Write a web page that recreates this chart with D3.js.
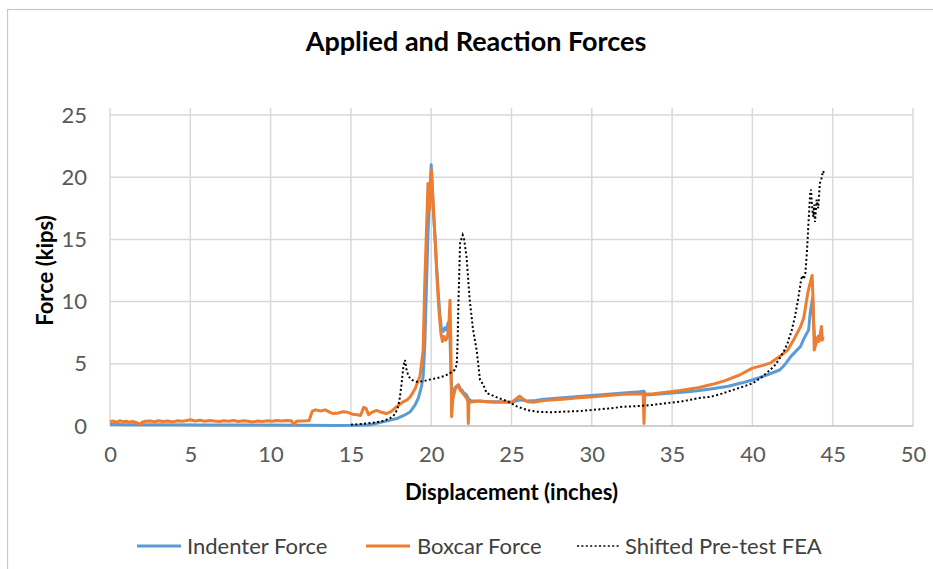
<!DOCTYPE html>
<html>
<head>
<meta charset="utf-8">
<script src="https://cdn.jsdelivr.net/npm/d3@7"></script>
<style>
  html, body { margin: 0; padding: 0; background: #fff; }
  svg { display: block; }
  text { font-family: Lato, "Open Sans", sans-serif; }
</style>
</head>
<body>
<svg id="chart" width="933" height="569"></svg>
<script>
// ---- Data ----------------------------------------------------------------
const chartTitle = "Applied and Reaction Forces";
const xAxisTitle = "Displacement (inches)";
const yAxisTitle = "Force (kips)";
const seriesNames = ["Indenter Force", "Boxcar Force", "Shifted Pre-test FEA"];

const xTicks = [0, 5, 10, 15, 20, 25, 30, 35, 40, 45, 50];
const yTicks = [0, 5, 10, 15, 20, 25];

// Indenter force (kips) vs displacement (in)
const indenterX = [0, 1, 3, 6, 9, 12, 14, 15.5, 16.2, 16.8, 17.4, 17.85, 18.3, 18.7, 19.0, 19.2, 19.4, 19.5, 19.6, 19.7, 19.8, 19.9, 20.0, 20.05, 20.15, 20.25, 20.34, 20.45, 20.55, 20.65, 20.75, 20.85, 20.96, 21.05, 21.15, 21.25, 21.3, 21.4, 21.5, 21.6, 21.7, 21.8, 21.9, 22.0, 22.2, 22.3, 22.5, 23, 23.5, 24, 25, 25.5, 26, 26.5, 27, 28, 29, 30, 31, 32, 33, 33.25, 33.35, 34, 35, 36, 36.7, 37.5, 38.5, 39.3, 40, 40.8, 41.3, 41.7, 42.0, 42.4, 42.7, 43.0, 43.2, 43.4, 43.5, 43.6, 43.7, 43.75, 43.8, 43.9, 44.0, 44.1, 44.3];
const indenterY = [0.15, 0.1, 0.1, 0.08, 0.08, 0.06, 0.05, 0.06, 0.1, 0.27, 0.45, 0.6, 0.85, 1.15, 1.7, 2.25, 3.2, 4.0, 6.5, 11, 15.5, 18.5, 21.0, 19.5, 17.0, 15.0, 12.8, 10.5, 8.8, 7.7, 7.6, 7.9, 7.7, 8.3, 8.0, 3.5, 2.6, 2.8, 3.1, 3.2, 3.3, 3.0, 2.9, 2.7, 2.5, 2.2, 2.0, 2.0, 1.95, 1.95, 1.9, 2.1, 2.0, 2.05, 2.15, 2.25, 2.35, 2.45, 2.55, 2.65, 2.75, 2.8, 2.5, 2.55, 2.65, 2.75, 2.85, 3.0, 3.2, 3.45, 3.7, 4.05, 4.3, 4.5, 4.9, 5.6, 6.0, 6.4, 7.0, 7.5, 7.7, 9.1, 9.9, 10.3, 8.5, 6.5, 6.8, 7.2, 7.3];

// Boxcar reaction force (kips) vs displacement (in)
const boxcarX = [0, 0.2, 0.4, 0.6, 0.8, 1.0, 1.2, 1.4, 1.6, 1.8, 1.9, 2.0, 2.2, 2.5, 2.8, 3.0, 3.3, 3.6, 3.9, 4.2, 4.5, 4.8, 5.0, 5.3, 5.6, 5.9, 6.2, 6.5, 6.8, 7.1, 7.4, 7.7, 8.0, 8.3, 8.6, 8.9, 9.2, 9.5, 9.8, 10.1, 10.4, 10.7, 11.0, 11.3, 11.45, 11.6, 11.9, 12.2, 12.4, 12.6, 12.8, 13.1, 13.4, 13.7, 13.9, 14.2, 14.5, 14.8, 15.1, 15.4, 15.6, 15.8, 15.95, 16.1, 16.3, 16.6, 16.9, 17.2, 17.5, 17.85, 18.2, 18.5, 18.7, 19.0, 19.3, 19.5, 19.6, 19.7, 19.8, 19.9, 19.95, 20.02, 20.1, 20.2, 20.3, 20.4, 20.5, 20.6, 20.7, 20.8, 20.9, 21.0, 21.1, 21.17, 21.22, 21.27, 21.35, 21.48, 21.6, 21.69, 21.8, 21.9, 22.05, 22.2, 22.28, 22.31, 22.35, 22.6, 23.0, 23.5, 24.0, 24.5, 25.0, 25.3, 25.5, 25.8, 26.0, 26.36, 27, 28.2, 29, 30.1, 31, 31.96, 33.2, 33.25, 33.3, 33.83, 34.5, 35.5, 36.7, 37.5, 38.3, 39.2, 40.0, 40.6, 41.1, 41.6, 42.2, 42.6, 43.0, 43.2, 43.45, 43.6, 43.72, 43.78, 43.85, 43.95, 44.05, 44.15, 44.3, 44.35, 44.4];
const boxcarY = [0.35, 0.4, 0.3, 0.42, 0.35, 0.38, 0.3, 0.36, 0.28, 0.2, 0.1, 0.3, 0.38, 0.4, 0.34, 0.42, 0.36, 0.4, 0.33, 0.42, 0.38, 0.45, 0.5, 0.4, 0.46, 0.38, 0.45, 0.4, 0.36, 0.42, 0.38, 0.44, 0.36, 0.42, 0.38, 0.33, 0.4, 0.37, 0.42, 0.38, 0.44, 0.4, 0.45, 0.42, 0.1, 0.38, 0.4, 0.42, 0.45, 1.2, 1.3, 1.2, 1.3, 1.1, 1.0, 1.05, 1.15, 1.1, 0.95, 0.9, 0.85, 1.5, 1.4, 0.9, 1.1, 1.25, 1.1, 1.0, 1.15, 1.55, 1.9, 2.1, 2.35, 3.0, 4.0, 6.1, 11.5, 15.5, 19.5, 17.4, 19.0, 20.6, 18.5, 16.0, 13.5, 11.0, 9.0, 7.5, 6.8, 7.2, 6.9, 7.1, 8.0, 10.1, 7.0, 0.75, 2.2, 2.9, 3.2, 3.3, 2.9, 2.75, 2.5, 2.25, 2.0, 0.2, 1.9, 1.95, 2.0, 1.95, 1.9, 1.95, 1.9, 2.2, 2.4, 2.1, 1.95, 1.9, 2.05, 2.15, 2.25, 2.35, 2.45, 2.55, 2.6, 0.2, 2.55, 2.6, 2.7, 2.85, 3.1, 3.35, 3.65, 4.1, 4.65, 4.85, 5.05, 5.5, 6.1, 7.0, 8.0, 8.7, 10.7, 11.5, 12.1, 10.0, 6.1, 6.6, 7.1, 6.8, 8.0, 6.9, 7.2];

// Shifted pre-test FEA prediction (kips) vs displacement (in)
const feaX = [15.0, 15.5, 16.0, 16.6, 17.0, 17.4, 17.64, 17.8, 17.95, 18.05, 18.16, 18.27, 18.37, 18.45, 18.58, 18.8, 19.1, 19.5, 19.8, 20.34, 20.8, 21.17, 21.45, 21.59, 21.65, 21.7, 21.8, 21.96, 22.05, 22.2, 22.4, 22.6, 22.83, 23.04, 23.25, 23.45, 24.1, 24.9, 25.3, 25.7, 26.1, 26.57, 27.4, 28.2, 29.2, 30.1, 31, 31.96, 32.9, 33.83, 34.7, 35.5, 36.1, 36.7, 37.4, 38.1, 38.8, 39.5, 40.05, 40.6, 41.1, 41.45, 41.7, 42.0, 42.2, 42.45, 42.65, 42.85, 43.0, 43.1, 43.2, 43.3, 43.4, 43.5, 43.6, 43.65, 43.7, 43.75, 43.8, 43.85, 43.9, 44.0, 44.1, 44.2, 44.3, 44.4, 44.5];
const feaY = [0.1, 0.15, 0.2, 0.3, 0.4, 0.6, 0.8, 1.1, 1.6, 2.3, 3.45, 4.8, 5.3, 4.6, 4.0, 3.7, 3.55, 3.6, 3.7, 3.85, 4.0, 4.25, 4.5, 4.9, 7.0, 10.1, 14.7, 15.35, 15.0, 13.6, 10.1, 7.8, 6.1, 3.7, 3.3, 2.65, 2.3, 1.9, 1.6, 1.4, 1.25, 1.15, 1.1, 1.15, 1.2, 1.3, 1.4, 1.55, 1.6, 1.7, 1.85, 1.95, 2.1, 2.25, 2.35, 2.6, 2.9, 3.2, 3.45, 3.95, 4.5, 4.95, 5.45, 6.1, 6.7, 7.7, 8.8, 10.2, 11.5, 12.1, 11.8, 12.3, 14.1, 16.5, 18.7, 19.0, 18.0, 17.2, 16.8, 17.8, 16.4, 18.2, 17.5, 19.5, 19.9, 20.5, 20.2];

// ---- Layout ---------------------------------------------------------------
const W = 933, H = 569;
const plot = { left: 110, right: 913, top: 115, bottom: 426 };
const colors = { indenter: "#5B9BD5", boxcar: "#ED7D31", fea: "#000000" };

const svg = d3.select("#chart");

// outer chart-area border (continues past the right and bottom edges)
svg.append("rect")
  .attr("x", 7.5).attr("y", 9.5)
  .attr("width", W + 20).attr("height", H + 20)
  .attr("fill", "#fff").attr("stroke", "#c8c8c8").attr("stroke-width", 1.2);

const x = d3.scaleLinear().domain([0, 50]).range([plot.left, plot.right]);
const y = d3.scaleLinear().domain([0, 25]).range([plot.bottom, plot.top]);

// gridlines
const grid = svg.append("g").attr("class", "grid");
grid.selectAll("line.h").data(yTicks.filter(d => d > 0)).join("line")
  .attr("class", "h")
  .attr("x1", x(0)).attr("x2", x(50))
  .attr("y1", d => y(d)).attr("y2", d => y(d))
  .attr("stroke", "#d9d9d9").attr("stroke-width", 1.5);
grid.selectAll("line.v").data(xTicks).join("line")
  .attr("class", "v")
  .attr("x1", d => x(d)).attr("x2", d => x(d))
  .attr("y1", y(25) - 7).attr("y2", y(0))
  .attr("stroke", "#d9d9d9").attr("stroke-width", 1.5);
// baseline
svg.append("line")
  .attr("x1", x(0)).attr("x2", x(50))
  .attr("y1", y(0)).attr("y2", y(0))
  .attr("stroke", "#bfbfbf").attr("stroke-width", 1.5);

// axes (labels only)
const xAxis = svg.append("g")
  .attr("transform", `translate(0,${plot.bottom})`)
  .call(d3.axisBottom(x).tickValues(xTicks).tickSize(0).tickPadding(20).tickFormat(d3.format("d")));
const yAxis = svg.append("g")
  .attr("transform", `translate(${plot.left},0)`)
  .call(d3.axisLeft(y).tickValues(yTicks).tickSize(0).tickPadding(23).tickFormat(d3.format("d")));
[xAxis, yAxis].forEach(g => {
  g.select(".domain").remove();
  g.selectAll("text")
    .attr("font-family", "Lato, sans-serif")
    .attr("font-size", 22)
    .attr("fill", "#595959");
});

// series
const line = d3.line().x(d => x(d[0])).y(d => y(d[1]));
const zip = (xs, ys) => xs.map((v, i) => [v, ys[i]]);

svg.append("path")
  .datum(zip(indenterX, indenterY))
  .attr("d", line)
  .attr("fill", "none").attr("stroke", colors.indenter)
  .attr("stroke-width", 3).attr("stroke-linejoin", "round");

svg.append("path")
  .datum(zip(boxcarX, boxcarY))
  .attr("d", line)
  .attr("fill", "none").attr("stroke", colors.boxcar)
  .attr("stroke-width", 3).attr("stroke-linejoin", "round");

svg.append("path")
  .datum(zip(feaX, feaY))
  .attr("d", line)
  .attr("fill", "none").attr("stroke", colors.fea)
  .attr("stroke-width", 2).attr("stroke-dasharray", "2 2.4");

// titles
svg.append("text")
  .attr("x", 476).attr("y", 51)
  .attr("text-anchor", "middle")
  .attr("font-size", 27).attr("font-weight", "bold").attr("fill", "#000")
  .text(chartTitle);

svg.append("text")
  .attr("x", (plot.left + plot.right) / 2).attr("y", 500)
  .attr("text-anchor", "middle")
  .attr("font-size", 22).attr("font-weight", "bold").attr("fill", "#000")
  .text(xAxisTitle);

svg.append("text")
  .attr("transform", `translate(53,${(plot.top + plot.bottom) / 2}) rotate(-90)`)
  .attr("text-anchor", "middle")
  .attr("font-size", 22).attr("font-weight", "bold").attr("fill", "#000")
  .text(yAxisTitle);

// legend
const legendItems = [
  { name: seriesNames[0], color: colors.indenter, dash: null, width: 3, x0: 137, x1: 181, tx: 187 },
  { name: seriesNames[1], color: colors.boxcar, dash: null, width: 3, x0: 366, x1: 410, tx: 417 },
  { name: seriesNames[2], color: colors.fea, dash: "2 2.4", width: 1.5, x0: 577, x1: 619, tx: 625 }
];
const legend = svg.append("g").attr("class", "legend");
const li = legend.selectAll("g").data(legendItems).join("g");
li.append("line")
  .attr("x1", d => d.x0).attr("x2", d => d.x1)
  .attr("y1", 546).attr("y2", 546)
  .attr("stroke", d => d.color).attr("stroke-width", d => d.width)
  .attr("stroke-dasharray", d => d.dash);
li.append("text")
  .attr("x", d => d.tx).attr("y", 554)
  .attr("font-size", 22).attr("fill", "#404040")
  .text(d => d.name);
</script>
</body>
</html>
